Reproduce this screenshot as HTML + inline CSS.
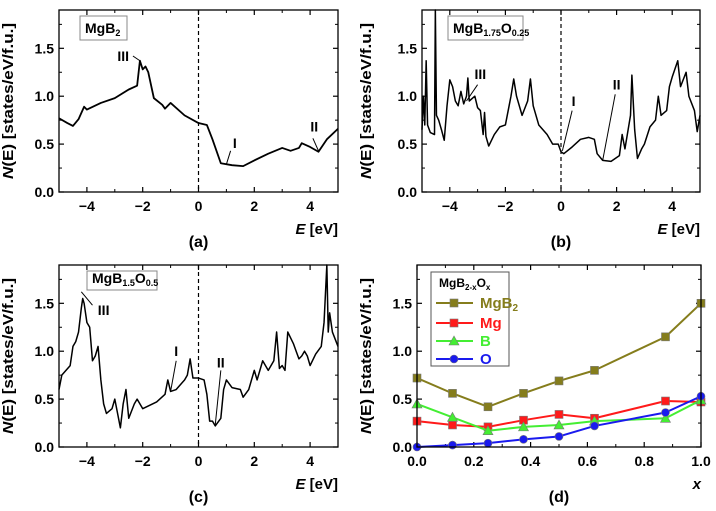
<!DOCTYPE html>
<html><head><meta charset="utf-8"><style>
body{margin:0;background:#fff}
svg{display:block;font-family:"Liberation Sans",Arial,sans-serif;font-weight:bold}
</style></head><body>
<svg id="fig" width="716" height="511" viewBox="0 0 716 511" xmlns="http://www.w3.org/2000/svg"></svg>
<script>
// Panel (a) MgB2
const aE=[-5,-4.7,-4.5,-4.3,-4.1,-4.0,-3.5,-3,-2.5,-2.2,-2.1,-2.0,-1.9,-1.8,-1.6,-1.3,-1.2,-1.0,-0.5,0,0.3,0.5,0.8,1.2,1.6,2,2.5,3.0,3.3,3.6,3.7,4.0,4.3,4.6,5];
const aN=[0.77,0.72,0.69,0.76,0.89,0.86,0.93,0.98,1.07,1.11,1.37,1.28,1.31,1.25,0.98,0.91,0.87,0.93,0.80,0.72,0.70,0.55,0.30,0.28,0.27,0.33,0.40,0.46,0.43,0.46,0.51,0.47,0.42,0.55,0.66];
// Panel (b) MgB1.75O0.25
const bE=[-5,-4.95,-4.9,-4.85,-4.8,-4.7,-4.55,-4.52,-4.48,-4.4,-4.3,-4.2,-4.1,-4.0,-3.9,-3.8,-3.7,-3.6,-3.5,-3.4,-3.35,-3.3,-3.1,-3.0,-2.9,-2.8,-2.75,-2.7,-2.6,-2.4,-2.2,-2.0,-1.8,-1.7,-1.6,-1.4,-1.2,-1.1,-1.0,-0.8,-0.5,-0.3,-0.1,0.0,0.1,0.4,0.7,1.0,1.2,1.3,1.5,1.8,2.1,2.2,2.3,2.5,2.55,2.65,2.75,2.9,3.0,3.2,3.4,3.5,3.6,3.8,3.9,4.0,4.2,4.3,4.5,4.6,4.8,4.9,5];
const bN=[0.65,1.0,0.7,1.37,0.7,0.62,0.6,1.9,0.8,0.75,0.65,0.54,0.9,1.17,1.1,0.95,0.9,1.05,0.92,1.0,1.19,0.95,1.0,0.88,0.85,0.6,0.83,0.58,0.48,0.6,0.68,0.7,1.0,1.18,1.0,0.8,0.95,1.18,0.9,0.7,0.6,0.5,0.5,0.42,0.4,0.47,0.55,0.57,0.55,0.4,0.33,0.32,0.38,0.6,0.45,0.8,1.22,0.65,0.35,0.45,0.5,0.68,0.75,1.0,0.8,0.85,1.1,1.2,1.37,1.1,1.25,1.0,0.85,0.63,0.8];
// Panel (c) MgB1.5O0.5
const cE=[-5,-4.9,-4.6,-4.5,-4.4,-4.3,-4.2,-4.15,-4.1,-4.0,-3.9,-3.8,-3.7,-3.6,-3.5,-3.4,-3.3,-3.1,-3.0,-2.9,-2.8,-2.7,-2.6,-2.5,-2.3,-2.2,-2.0,-1.5,-1.2,-1.1,-1.0,-0.8,-0.5,-0.4,-0.3,-0.2,0,0.2,0.3,0.4,0.5,0.6,0.8,0.9,1.0,1.2,1.5,1.6,1.8,2.0,2.1,2.2,2.3,2.5,2.7,2.8,2.9,3.0,3.1,3.2,3.4,3.5,3.6,3.7,3.8,3.9,4.0,4.2,4.4,4.5,4.55,4.6,4.65,4.7,4.8,5.0];
const cN=[0.6,0.75,0.85,1.05,1.1,1.2,1.45,1.55,1.5,1.3,1.25,0.9,0.95,1.05,0.7,0.45,0.35,0.4,0.5,0.35,0.2,0.45,0.6,0.3,0.45,0.5,0.4,0.47,0.55,0.7,0.58,0.6,0.7,0.75,0.92,0.72,0.72,0.7,0.55,0.27,0.27,0.22,0.3,0.6,0.7,0.62,0.6,0.52,0.6,0.8,0.7,0.8,0.9,0.8,0.9,1.2,0.82,0.85,0.8,1.2,1.08,1.0,0.92,0.95,1.0,0.95,0.85,0.97,1.05,1.3,1.6,1.9,1.2,1.4,1.2,1.05];
// Panel (d)
const dX=[0,0.125,0.25,0.375,0.5,0.625,0.875,1.0];
const dMgB2=[0.72,0.56,0.42,0.56,0.69,0.80,1.15,1.50];
const dMg=[0.27,0.23,0.21,0.28,0.34,0.30,0.48,0.47];
const dB=[0.45,0.31,0.17,0.21,0.23,0.27,0.30,0.49];
const dO=[0.0,0.02,0.04,0.08,0.11,0.22,0.36,0.53];
const eTicks=[-4,-2,0,2,4];
const xTicks=[0,0.2,0.4,0.6,0.8,1.0];
const yTicks=[0,0.5,1.0,1.5];

const svg=document.getElementById('fig');
const NS='http://www.w3.org/2000/svg';
function mk(tag,attrs,parent,text){const e=document.createElementNS(NS,tag);for(const k in attrs)e.setAttribute(k,attrs[k]);if(text!==undefined)e.textContent=text;(parent||svg).appendChild(e);return e;}

function panel(o){
  const g=mk('g',{});
  
  
  const sx=v=>o.L+(v-o.x0)/(o.x1-o.x0)*(o.R-o.L);
  const sy=v=>o.B-v/1.9*(o.B-o.T);
  o.sx=sx;o.sy=sy;
  o.xt.forEach((t,i)=>{
    const X=sx(t);
    mk('line',{x1:X,x2:X,y1:o.B,y2:o.B-5,stroke:'#000','stroke-width':1.2},g);
    mk('line',{x1:X,x2:X,y1:o.T,y2:o.T+5,stroke:'#000','stroke-width':1.2},g);
    const lab=mk('text',{x:X,y:o.B+19,'font-size':14,'text-anchor':'middle'},g,o.fmt(t));
    
    
    if(i<o.xt.length-1){const m=sx(t+o.step/2);
      mk('line',{x1:m,x2:m,y1:o.B,y2:o.B-3,stroke:'#000','stroke-width':1},g);
      mk('line',{x1:m,x2:m,y1:o.T,y2:o.T+3,stroke:'#000','stroke-width':1},g);}
  });
  yTicks.forEach(t=>{
    const Y=sy(t);
    mk('line',{x1:o.L,x2:o.L+5,y1:Y,y2:Y,stroke:'#000','stroke-width':1.2},g);
    mk('line',{x1:o.R,x2:o.R-5,y1:Y,y2:Y,stroke:'#000','stroke-width':1.2},g);
    const Ym=sy(t+0.25);
    mk('line',{x1:o.L,x2:o.L+3,y1:Ym,y2:Ym,stroke:'#000','stroke-width':1},g);
    mk('line',{x1:o.R,x2:o.R-3,y1:Ym,y2:Ym,stroke:'#000','stroke-width':1},g);
    const lab=mk('text',{x:o.L-5,y:Y+5,'font-size':14,'text-anchor':'end'},g,t.toFixed(1));
    
    
  });
  const yt=mk('text',{x:0,y:0,'font-size':15,'text-anchor':'middle',textLength:156,lengthAdjust:'spacingAndGlyphs',transform:`translate(${o.L-o.yoff},${(o.T+o.B)/2}) rotate(-90)`},g);
  
  
  yt.innerHTML='<tspan font-style="italic">N</tspan>(E) [states/eV/f.u.]';
  const xt=mk('text',{x:o.R,y:o.B+42,'font-size':15,'text-anchor':'end'},g);
  
  
  xt.innerHTML=o.xlabel;
  const pl=mk('text',{x:(o.L+o.R)/2,y:o.B+55,'font-size':16,'text-anchor':'middle'},g,o.plabel);
  
  
  if(o.dash){const X=sx(0);const d=mk('line',{x1:X,x2:X,y1:o.T,y2:o.B,stroke:'#000','stroke-width':1.2,'stroke-dasharray':'4,3'},g);
    }
  o.g=g;
  return o;
}
function frame(o){const r=mk('rect',{x:o.L,y:o.T,width:o.R-o.L,height:o.B-o.T,fill:'none',stroke:'#000','stroke-width':1.3},o.g);
  }
function curve(o,xs,ys,color,w,name){
  const p=mk('polyline',{points:xs.map((x,i)=>o.sx(x)+','+o.sy(ys[i])).join(' '),fill:'none',stroke:color,'stroke-width':w,'stroke-linejoin':'round'},o.g);
  return p;}
function ann(o,txt,tx,ty,lx1,ly1,lx2,ly2){
  const t=mk('text',{x:o.sx(tx),y:o.sy(ty),'font-size':14,'text-anchor':'middle'},o.g,txt);
  
  mk('line',{x1:o.sx(lx1),y1:o.sy(ly1),x2:o.sx(lx2),y2:o.sy(ly2),stroke:'#000','stroke-width':1},o.g);}
function box(o,x,y,w,h,html){
  const r=mk('rect',{x:x,y:y,width:w,height:h,fill:'#fff',stroke:'#888','stroke-width':1},o.g);
  
  const t=mk('text',{x:x+5,y:y+h-7,'font-size':14},o.g);
  
  t.innerHTML=html;}
const fE=t=>String(t).replace('-','\u2212');
const fX=t=>t.toFixed(1);
const eLab='<tspan font-style="italic">E</tspan> [eV]';

const pa=panel({name:'panel-a',L:59,R:338,T:10,B:192,x0:-5,x1:5,xt:eTicks,step:2,fmt:fE,xlabel:eLab,plabel:'(a)',dash:true,yoff:46});
curve(pa,aE,aN,'#000',1.8,'dos-curve-mgb2');
ann(pa,'III',-2.7,1.37,-2.35,1.42,-2.1,1.37);
ann(pa,'I',1.3,0.46,1.15,0.43,1.0,0.29);
ann(pa,'II',4.15,0.63,4.1,0.56,4.3,0.43);
box(pa,80,16,47,24,'MgB<tspan font-size="9" dy="3">2</tspan>');
frame(pa);

const pb=panel({name:'panel-b',L:422,R:700,T:10,B:192,x0:-5,x1:5,xt:eTicks,step:2,fmt:fE,xlabel:eLab,plabel:'(b)',dash:true,yoff:51});
curve(pb,bE,bN,'#000',1.5,'dos-curve-mgb175o025');
ann(pb,'III',-2.9,1.18,-3.0,1.12,-3.4,0.95);
ann(pb,'I',0.45,0.9,0.4,0.85,0.05,0.43);
ann(pb,'II',2.0,1.07,1.95,1.02,1.5,0.33);
box(pb,448,16,75,24,'MgB<tspan font-size="9" dy="3">1.75</tspan><tspan dy="-3">O</tspan><tspan font-size="9" dy="3">0.25</tspan>');
frame(pb);

const pc=panel({name:'panel-c',L:59,R:338,T:265,B:447,x0:-5,x1:5,xt:eTicks,step:2,fmt:fE,xlabel:eLab,plabel:'(c)',dash:true,yoff:46});
curve(pc,cE,cN,'#000',1.5,'dos-curve-mgb15o05');
ann(pc,'III',-3.4,1.38,-3.8,1.48,-4.2,1.62);
ann(pc,'I',-0.8,0.95,-0.8,0.9,-1.0,0.58);
ann(pc,'II',0.8,0.83,0.8,0.8,0.6,0.23);
box(pc,87,271,70,19,'MgB<tspan font-size="9" dy="3">1.5</tspan><tspan dy="-3">O</tspan><tspan font-size="9" dy="3">0.5</tspan>');
frame(pc);

const pd=panel({name:'panel-d',L:417,R:701,T:265,B:447,x0:0,x1:1,xt:xTicks,step:0.2,fmt:fX,xlabel:'<tspan font-style="italic">x</tspan>',plabel:'(d)',dash:false,yoff:46});
const series=[['mgb2',dMgB2,'#857d1c','sq'],['mg',dMg,'#ff1a1a','sq'],['b',dB,'#44ee33','tri'],['o',dO,'#1a1aee','ci']];
function marker(g,x,y,c,shape,name){
  let m;
  if(shape==='sq')m=mk('rect',{x:x-4,y:y-4,width:8,height:8,fill:c,stroke:'#777','stroke-width':0.6},g);
  else if(shape==='tri')m=mk('polygon',{points:`${x},${y-5} ${x-5},${y+4} ${x+5},${y+4}`,fill:c,stroke:'#777','stroke-width':0.6},g);
  else m=mk('circle',{cx:x,cy:y,r:4,fill:c,stroke:'#777','stroke-width':0.6},g);
  }
series.forEach(([n,ys,c,sh])=>{
  curve(pd,dX,ys,c,2,'line-'+n);
  dX.forEach((x,i)=>marker(pd.g,pd.sx(x),pd.sy(ys[i]),c,sh,'point-'+n));
});
frame(pd);
const lg=mk('g',{});


mk('rect',{x:431,y:272,width:78,height:94,fill:'#fff',stroke:'#555','stroke-width':1},lg);
const lt=mk('text',{x:439,y:287,'font-size':12},lg);

lt.innerHTML='MgB<tspan font-size="8" dy="3">2-x</tspan><tspan dy="-3">O</tspan><tspan font-size="8" dy="3">x</tspan>';
const lab=[['mgb2','MgB','#857d1c','sq',303],['mg','Mg','#ff1a1a','sq',323],['b','B','#44ee33','tri',341],['o','O','#1a1aee','ci',359]];
lab.forEach(([n,t,c,sh,y])=>{
  const e=mk('g',{},lg);
  
  
  mk('line',{x1:436,x2:473,y1:y,y2:y,stroke:c,'stroke-width':2},e);
  marker(e,454,y,c,sh,'legend-marker');
  const tx=mk('text',{x:480,y:y+5,'font-size':15,fill:c},e);
  tx.innerHTML=n==='mgb2'?'MgB<tspan font-size="10" dy="3">2</tspan>':t;
});
</script>
</body></html>
